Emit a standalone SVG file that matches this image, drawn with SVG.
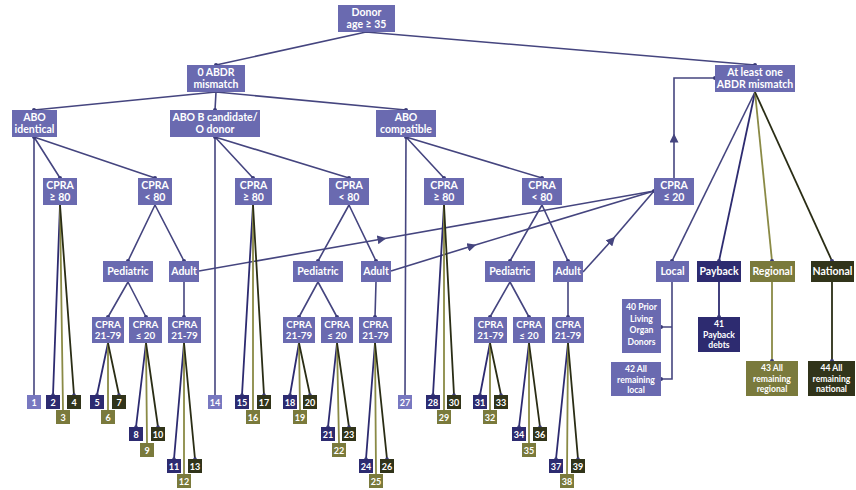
<svg xmlns="http://www.w3.org/2000/svg" width="856" height="490" viewBox="0 0 856 490">
<defs>
<style>
.n{fill:#6a6ab0}
.nv{fill:#2d2b70}
.ol{fill:#7a7a3c}
.dk{fill:#31341a}
.lt{fill:#7878c0}
text{font-family:Lato,"Liberation Sans",sans-serif;font-weight:bold;fill:#fff;text-anchor:middle}
.t{font-size:10.5px}
.s{font-size:9.8px}
.m{font-size:8.6px}
.l{font-size:9px}
.e{stroke:#45457f;stroke-width:1.6;fill:none}
.enav{stroke:#2d2b70;stroke-width:1.8;fill:none}
.eol{stroke:#8a8a45;stroke-width:1.8;fill:none}
.edk{stroke:#2a2d15;stroke-width:1.8;fill:none}
.d{fill:#3a3a78}
</style>
<marker id="ar" viewBox="0 0 10 10" refX="5" refY="5" markerWidth="9" markerHeight="9" markerUnits="userSpaceOnUse" orient="auto"><path d="M0,0 L10,5 L0,10 z" fill="#45457f"/></marker>
</defs>

<g id="connectors">
<path class="e" d="M366,32 L216,65 M366,32 L755,65"/>
<path class="e" d="M216,92 L34,110 M216,92 L215,110 M216,92 L406,110"/>
<path class="e" d="M34,137 L34,395 M34,137 L60,178 M34,137 L155,178"/>
<path class="e" d="M215,137 L215,395 M215,137 L253,178 M215,137 L349,178"/>
<path class="e" d="M406,137 L405,395 M406,137 L444,178 M406,137 L542,178"/>
<path class="e" d="M155,205 L128,261 M155,205 L184,261 M349,205 L318,261 M349,205 L376,261 M542,205 L510,261 M542,205 L568,261"/>
<path class="e" d="M128,282 L108,317 M128,282 L146,317 M184,282 L184,317 M318,282 L299,317 M318,282 L337,317 M376,282 L375,317 M510,282 L490,317 M510,282 L529,317 M568,282 L568,317"/>
<path class="e" marker-end="url(#ar)" d="M199,271 L382,239"/>
<path class="e" d="M382,239 L654,191"/>
<path class="e" marker-end="url(#ar)" d="M391,271 L472,246"/>
<path class="e" d="M472,246 L654,191"/>
<path class="e" marker-end="url(#ar)" d="M583,272 L612,240"/>
<path class="e" d="M612,240 L654,191"/>
<path class="e" marker-end="url(#ar)" d="M674,178 L674,138"/>
<path class="e" d="M674,138 L674,78 L715,78"/>
<path class="e" d="M755,92 L672,261"/>
<path class="enav" d="M755,92 L719,261"/>
<path class="eol" d="M755,92 L772,261"/>
<path class="edk" d="M755,92 L832,261"/>
<path class="e" d="M672,282 L672,379 L661,379 M672,327 L661,327"/>
<path class="enav" d="M719,282 L719,317"/>
<path class="eol" d="M772,282 L772,361"/>
<path class="edk" d="M832,282 L832,361"/>
<path class="enav" d="M60,205 L53,395 M108,343 L97,395 M146,343 L136,427 M184,343 L174,459 M253,205 L242,395 M299,343 L290,395 M337,343 L328,427 M375,343 L366,459 M444,205 L433,395 M490,343 L480,395 M529,343 L519,427 M568,343 L556,459"/>
<path class="eol" d="M60,205 L63,410 M108,343 L108,410 M146,343 L147,443 M184,343 L184,474 M253,205 L253,410 M299,343 L300,410 M337,343 L339,443 M375,343 L376,474 M444,205 L444,410 M490,343 L490,410 M529,343 L529,443 M568,343 L567,474"/>
<path class="edk" d="M60,205 L74,395 M108,343 L119,395 M146,343 L158,427 M184,343 L195,459 M253,205 L264,395 M299,343 L310,395 M337,343 L349,427 M375,343 L387,459 M444,205 L454,395 M490,343 L501,395 M529,343 L540,427 M568,343 L578,459"/>
<g class="d">
<circle cx="216" cy="65" r="2"/><circle cx="755" cy="65" r="2"/>
<circle cx="34" cy="110" r="2"/><circle cx="215" cy="110" r="2"/><circle cx="406" cy="110" r="2"/>
<circle cx="34" cy="137" r="2"/><circle cx="215" cy="137" r="2"/><circle cx="406" cy="137" r="2"/>
<circle cx="60" cy="178" r="2"/><circle cx="155" cy="178" r="2"/><circle cx="253" cy="178" r="2"/><circle cx="349" cy="178" r="2"/><circle cx="444" cy="178" r="2"/><circle cx="542" cy="178" r="2"/>
<circle cx="128" cy="261" r="2"/><circle cx="184" cy="261" r="2"/><circle cx="318" cy="261" r="2"/><circle cx="376" cy="261" r="2"/><circle cx="510" cy="261" r="2"/><circle cx="568" cy="261" r="2"/>
<circle cx="108" cy="317" r="2"/><circle cx="146" cy="317" r="2"/><circle cx="184" cy="317" r="2"/><circle cx="299" cy="317" r="2"/><circle cx="337" cy="317" r="2"/><circle cx="375" cy="317" r="2"/><circle cx="490" cy="317" r="2"/><circle cx="529" cy="317" r="2"/><circle cx="568" cy="317" r="2"/>
<circle cx="654" cy="191" r="2"/><circle cx="715" cy="78" r="2"/>
<circle cx="672" cy="261" r="2"/><circle cx="719" cy="261" r="2"/><circle cx="772" cy="261" r="2"/><circle cx="832" cy="261" r="2"/>
<circle cx="661" cy="327" r="2"/><circle cx="661" cy="379" r="2"/><circle cx="719" cy="317" r="2"/><circle cx="772" cy="361" r="2"/><circle cx="832" cy="361" r="2"/>
<circle cx="53" cy="395" r="1.8"/><circle cx="74" cy="395" r="1.8"/><circle cx="97" cy="395" r="1.8"/><circle cx="119" cy="395" r="1.8"/><circle cx="136" cy="427" r="1.8"/><circle cx="158" cy="427" r="1.8"/><circle cx="174" cy="459" r="1.8"/><circle cx="195" cy="459" r="1.8"/>
<circle cx="242" cy="395" r="1.8"/><circle cx="264" cy="395" r="1.8"/><circle cx="290" cy="395" r="1.8"/><circle cx="310" cy="395" r="1.8"/><circle cx="328" cy="427" r="1.8"/><circle cx="349" cy="427" r="1.8"/><circle cx="366" cy="459" r="1.8"/><circle cx="387" cy="459" r="1.8"/>
<circle cx="433" cy="395" r="1.8"/><circle cx="454" cy="395" r="1.8"/><circle cx="480" cy="395" r="1.8"/><circle cx="501" cy="395" r="1.8"/><circle cx="519" cy="427" r="1.8"/><circle cx="540" cy="427" r="1.8"/><circle cx="556" cy="459" r="1.8"/><circle cx="578" cy="459" r="1.8"/>
</g>
</g>

<g id="donor"><rect class="n" x="338" y="5" width="57" height="27"/><text class="t" x="366.5" y="16">Donor</text><text class="t" x="366.5" y="28">age ≥ 35</text></g>
<g id="abdr0"><rect class="n" x="187" y="65" width="58" height="27"/><text class="t" x="216" y="76">0 ABDR</text><text class="t" x="216" y="88">mismatch</text></g>
<g id="atleast"><rect class="n" x="715" y="65" width="80" height="27"/><text class="t" x="755" y="76">At least one</text><text class="t" x="755" y="88">ABDR mismatch</text></g>
<g id="aboid"><rect class="n" x="12" y="110" width="45" height="27"/><text class="t" x="34.5" y="121">ABO</text><text class="t" x="34.5" y="133">identical</text></g>
<g id="abob"><rect class="n" x="170" y="110" width="90" height="27"/><text class="t" x="215" y="121">ABO B candidate/</text><text class="t" x="215" y="133">O donor</text></g>
<g id="abocomp"><rect class="n" x="376" y="110" width="60" height="27"/><text class="t" x="406" y="121">ABO</text><text class="t" x="406" y="133">compatible</text></g>

<g id="c1"><rect class="n" x="43" y="178" width="34" height="27"/><text class="t" x="60" y="189">CPRA</text><text class="t" x="60" y="201">≥ 80</text></g>
<g id="c2"><rect class="n" x="138" y="178" width="34" height="27"/><text class="t" x="155" y="189">CPRA</text><text class="t" x="155" y="201">&lt; 80</text></g>
<g id="c3"><rect class="n" x="235" y="178" width="37" height="27"/><text class="t" x="253.5" y="189">CPRA</text><text class="t" x="253.5" y="201">≥ 80</text></g>
<g id="c4"><rect class="n" x="329" y="178" width="40" height="27"/><text class="t" x="349" y="189">CPRA</text><text class="t" x="349" y="201">&lt; 80</text></g>
<g id="c5"><rect class="n" x="424" y="178" width="40" height="27"/><text class="t" x="444" y="189">CPRA</text><text class="t" x="444" y="201">≥ 80</text></g>
<g id="c6"><rect class="n" x="522" y="178" width="40" height="27"/><text class="t" x="542" y="189">CPRA</text><text class="t" x="542" y="201">&lt; 80</text></g>
<g id="c7"><rect class="n" x="654" y="178" width="40" height="27"/><text class="t" x="674" y="189">CPRA</text><text class="t" x="674" y="201">≤ 20</text></g>

<g id="ped1"><rect class="n" x="103" y="261" width="50" height="21"/><text class="t" x="128" y="275">Pediatric</text></g>
<g id="adu1"><rect class="n" x="169" y="261" width="30" height="21"/><text class="t" x="184" y="275">Adult</text></g>
<g id="ped2"><rect class="n" x="293" y="261" width="50" height="21"/><text class="t" x="318" y="275">Pediatric</text></g>
<g id="adu2"><rect class="n" x="361" y="261" width="30" height="21"/><text class="t" x="376" y="275">Adult</text></g>
<g id="ped3"><rect class="n" x="485" y="261" width="50" height="21"/><text class="t" x="510" y="275">Pediatric</text></g>
<g id="adu3"><rect class="n" x="553" y="261" width="30" height="21"/><text class="t" x="568" y="275">Adult</text></g>
<g id="local"><rect class="n" x="656" y="261" width="33" height="21"/><text class="t" x="672.5" y="275">Local</text></g>
<g id="payback"><rect class="nv" x="697" y="261" width="44" height="21"/><text class="t" x="719" y="275">Payback</text></g>
<g id="regional"><rect class="ol" x="750" y="261" width="45" height="21"/><text class="t" x="772.5" y="275">Regional</text></g>
<g id="national"><rect class="dk" x="811" y="261" width="43" height="21"/><text class="t" x="832.5" y="275">National</text></g>

<g id="r1"><rect class="n" x="92" y="317" width="32" height="26"/><text class="s" x="108" y="328">CPRA</text><text class="s" x="108" y="339">21-79</text></g>
<g id="r2"><rect class="n" x="129" y="317" width="33" height="26"/><text class="s" x="145.5" y="328">CPRA</text><text class="s" x="145.5" y="339">≤ 20</text></g>
<g id="r3"><rect class="n" x="168" y="317" width="33" height="26"/><text class="s" x="184.5" y="328">CPRA</text><text class="s" x="184.5" y="339">21-79</text></g>
<g id="r4"><rect class="n" x="283" y="317" width="32" height="26"/><text class="s" x="299" y="328">CPRA</text><text class="s" x="299" y="339">21-79</text></g>
<g id="r5"><rect class="n" x="321" y="317" width="32" height="26"/><text class="s" x="337" y="328">CPRA</text><text class="s" x="337" y="339">≤ 20</text></g>
<g id="r6"><rect class="n" x="359" y="317" width="33" height="26"/><text class="s" x="375.5" y="328">CPRA</text><text class="s" x="375.5" y="339">21-79</text></g>
<g id="r7"><rect class="n" x="474" y="317" width="33" height="26"/><text class="s" x="490.5" y="328">CPRA</text><text class="s" x="490.5" y="339">21-79</text></g>
<g id="r8"><rect class="n" x="513" y="317" width="32" height="26"/><text class="s" x="529" y="328">CPRA</text><text class="s" x="529" y="339">≤ 20</text></g>
<g id="r9"><rect class="n" x="552" y="317" width="32" height="26"/><text class="s" x="568" y="328">CPRA</text><text class="s" x="568" y="339">21-79</text></g>

<g id="n40"><rect class="n" x="622" y="299" width="39" height="54"/><text class="m" x="641.5" y="310">40 Prior</text><text class="m" x="641.5" y="321.5">Living</text><text class="m" x="641.5" y="333">Organ</text><text class="m" x="641.5" y="344.5">Donors</text></g>
<g id="n42"><rect class="n" x="611" y="362" width="50" height="34"/><text class="m" x="636" y="372">42 All</text><text class="m" x="636" y="382.5">remaining</text><text class="m" x="636" y="393">local</text></g>
<g id="n41"><rect class="nv" x="698" y="317" width="42" height="35"/><text class="m" x="719" y="327">41</text><text class="m" x="719" y="337.5">Payback</text><text class="m" x="719" y="348">debts</text></g>
<g id="n43"><rect class="ol" x="746" y="361" width="52" height="35"/><text class="m" x="772" y="371">43 All</text><text class="m" x="772" y="381.5">remaining</text><text class="m" x="772" y="392">regional</text></g>
<g id="n44"><rect class="dk" x="808" y="361" width="47" height="35"/><text class="m" x="831.5" y="371">44 All</text><text class="m" x="831.5" y="381.5">remaining</text><text class="m" x="831.5" y="392">national</text></g>

<g id="leaves">
<g id="l1"><rect class="lt" x="27" y="395" width="14" height="14"/><text class="l" x="34" y="405.5">1</text></g>
<g id="l2"><rect class="nv" x="46" y="395" width="14" height="14"/><text class="l" x="53" y="405.5">2</text></g>
<g id="l3"><rect class="ol" x="56" y="410" width="14" height="14"/><text class="l" x="63" y="420.5">3</text></g>
<g id="l4"><rect class="dk" x="67" y="395" width="14" height="14"/><text class="l" x="74" y="405.5">4</text></g>
<g id="l5"><rect class="nv" x="90" y="395" width="14" height="14"/><text class="l" x="97" y="405.5">5</text></g>
<g id="l6"><rect class="ol" x="101" y="410" width="14" height="14"/><text class="l" x="108" y="420.5">6</text></g>
<g id="l7"><rect class="dk" x="112" y="395" width="14" height="14"/><text class="l" x="119" y="405.5">7</text></g>
<g id="l8"><rect class="nv" x="129" y="427" width="14" height="14"/><text class="l" x="136" y="437.5">8</text></g>
<g id="l9"><rect class="ol" x="140" y="443" width="14" height="14"/><text class="l" x="147" y="453.5">9</text></g>
<g id="l10"><rect class="dk" x="151" y="427" width="14" height="14"/><text class="l" x="158" y="437.5">10</text></g>
<g id="l11"><rect class="nv" x="167" y="459" width="14" height="14"/><text class="l" x="174" y="469.5">11</text></g>
<g id="l12"><rect class="ol" x="177" y="474" width="14" height="14"/><text class="l" x="184" y="484.5">12</text></g>
<g id="l13"><rect class="dk" x="188" y="459" width="14" height="14"/><text class="l" x="195" y="469.5">13</text></g>
<g id="l14"><rect class="lt" x="208" y="395" width="14" height="14"/><text class="l" x="215" y="405.5">14</text></g>
<g id="l15"><rect class="nv" x="235" y="395" width="14" height="14"/><text class="l" x="242" y="405.5">15</text></g>
<g id="l16"><rect class="ol" x="246" y="410" width="14" height="14"/><text class="l" x="253" y="420.5">16</text></g>
<g id="l17"><rect class="dk" x="257" y="395" width="14" height="14"/><text class="l" x="264" y="405.5">17</text></g>
<g id="l18"><rect class="nv" x="283" y="395" width="14" height="14"/><text class="l" x="290" y="405.5">18</text></g>
<g id="l19"><rect class="ol" x="293" y="410" width="14" height="14"/><text class="l" x="300" y="420.5">19</text></g>
<g id="l20"><rect class="dk" x="303" y="395" width="14" height="14"/><text class="l" x="310" y="405.5">20</text></g>
<g id="l21"><rect class="nv" x="321" y="427" width="14" height="14"/><text class="l" x="328" y="437.5">21</text></g>
<g id="l22"><rect class="ol" x="332" y="443" width="14" height="14"/><text class="l" x="339" y="453.5">22</text></g>
<g id="l23"><rect class="dk" x="342" y="427" width="14" height="14"/><text class="l" x="349" y="437.5">23</text></g>
<g id="l24"><rect class="nv" x="359" y="459" width="14" height="14"/><text class="l" x="366" y="469.5">24</text></g>
<g id="l25"><rect class="ol" x="369" y="474" width="14" height="14"/><text class="l" x="376" y="484.5">25</text></g>
<g id="l26"><rect class="dk" x="380" y="459" width="14" height="14"/><text class="l" x="387" y="469.5">26</text></g>
<g id="l27"><rect class="lt" x="398" y="395" width="14" height="14"/><text class="l" x="405" y="405.5">27</text></g>
<g id="l28"><rect class="nv" x="426" y="395" width="14" height="14"/><text class="l" x="433" y="405.5">28</text></g>
<g id="l29"><rect class="ol" x="437" y="410" width="14" height="14"/><text class="l" x="444" y="420.5">29</text></g>
<g id="l30"><rect class="dk" x="447" y="395" width="14" height="14"/><text class="l" x="454" y="405.5">30</text></g>
<g id="l31"><rect class="nv" x="473" y="395" width="14" height="14"/><text class="l" x="480" y="405.5">31</text></g>
<g id="l32"><rect class="ol" x="483" y="410" width="14" height="14"/><text class="l" x="490" y="420.5">32</text></g>
<g id="l33"><rect class="dk" x="494" y="395" width="14" height="14"/><text class="l" x="501" y="405.5">33</text></g>
<g id="l34"><rect class="nv" x="512" y="427" width="14" height="14"/><text class="l" x="519" y="437.5">34</text></g>
<g id="l35"><rect class="ol" x="522" y="443" width="14" height="14"/><text class="l" x="529" y="453.5">35</text></g>
<g id="l36"><rect class="dk" x="533" y="427" width="14" height="14"/><text class="l" x="540" y="437.5">36</text></g>
<g id="l37"><rect class="nv" x="549" y="459" width="14" height="14"/><text class="l" x="556" y="469.5">37</text></g>
<g id="l38"><rect class="ol" x="560" y="474" width="14" height="14"/><text class="l" x="567" y="484.5">38</text></g>
<g id="l39"><rect class="dk" x="571" y="459" width="14" height="14"/><text class="l" x="578" y="469.5">39</text></g>
</g>
</svg>
